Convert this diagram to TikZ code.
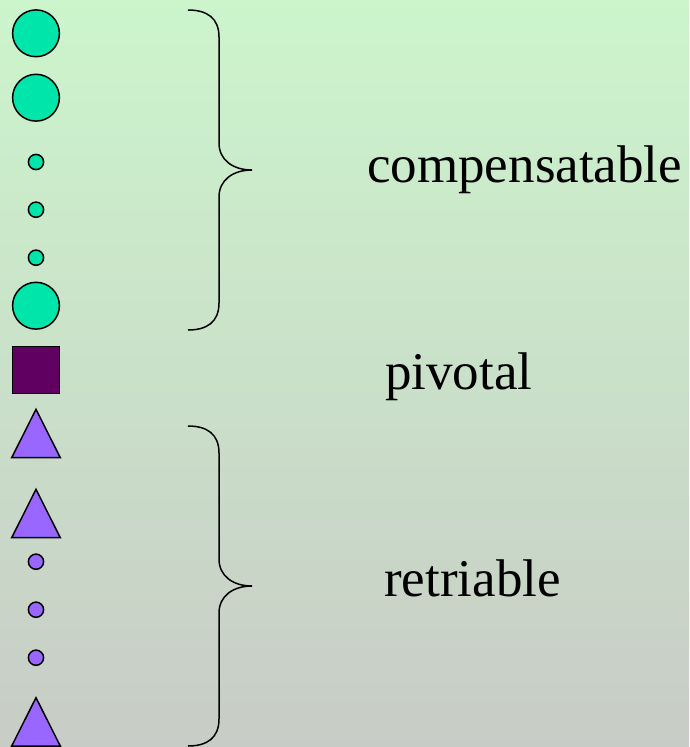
\documentclass[tikz,border=0pt]{standalone}
\usepackage{fontspec}
\setmainfont{Liberation Serif}
\definecolor{compfill}{RGB}{0,229,170}
\definecolor{retrfill}{RGB}{153,102,255}
\definecolor{pivfill}{RGB}{96,0,96}
\tikzset{
  bigdot/.style={circle,draw,line width=1.5pt,minimum size=46.8pt,inner sep=0pt},
  smalldot/.style={circle,draw,line width=1.5pt,minimum size=15.2pt,inner sep=0pt},
  pivbox/.style={rectangle,draw,line width=1.5pt,minimum size=46.8pt,inner sep=0pt,fill=pivfill},
  label/.style={anchor=base west,inner sep=0pt,font=\fontsize{53}{60}\selectfont},
}
\begin{document}
\begin{tikzpicture}[x=1pt,y=-1pt]
  \shade[top color={rgb,255:red,204;green,245;blue,204},
         bottom color={rgb,255:red,200;green,204;blue,198}]
    (0,0) rectangle (689,747);
  \useasboundingbox (0,0) rectangle (689,747);
  % compensatable steps
  \draw
    (36,33.3) node[bigdot,fill=compfill] (c1){}
    (36,97.7) node[bigdot,fill=compfill] (c2){}
    (36,162) node[smalldot,fill=compfill] (c3){}
    (36,209.7) node[smalldot,fill=compfill] (c4){}
    (36,257.7) node[smalldot,fill=compfill] (c5){}
    (36,305.7) node[bigdot,fill=compfill] (c6){};
  % pivotal step
  \node[pivbox] (p) at (36,370) {};
  % retriable steps
  \begin{scope}[line width=1.5pt,fill=retrfill,line join=miter]
    \filldraw (11.7,457.7) -- (36,409.3) -- (60.3,457.7) -- cycle;
    \filldraw (11.7,537.7) -- (36,489.3) -- (60.3,537.7) -- cycle;
    \filldraw (11.7,746) -- (36,697.7) -- (60.3,746) -- cycle;
  \end{scope}
  \draw
    (36,561.7) node[smalldot,fill=retrfill] (r1){}
    (36,609.7) node[smalldot,fill=retrfill] (r2){}
    (36,657.7) node[smalldot,fill=retrfill] (r3){};
  % braces
  \begin{scope}[line width=1.5pt]
    \draw (188,10) .. controls (207,10) and (219,18) .. (219,37) -- (219,143)
      .. controls (219,160) and (233,170) .. (252,170)
      .. controls (233,170) and (219,180) .. (219,197) -- (219,303)
      .. controls (219,322) and (207,330) .. (188,330);
    \draw (188,426) .. controls (207,426) and (219,434) .. (219,453) -- (219,559)
      .. controls (219,576) and (233,586) .. (252,586)
      .. controls (233,586) and (219,596) .. (219,613) -- (219,719)
      .. controls (219,738) and (207,746) .. (188,746);
  \end{scope}
  % labels
  \node[label] (comp) at (367,182.7) {compensatable};
  \node[label] (piv) at (385,389.3) {pivotal};
  \node[label] (retr) at (384,596) {retriable};
\end{tikzpicture}
\end{document}
